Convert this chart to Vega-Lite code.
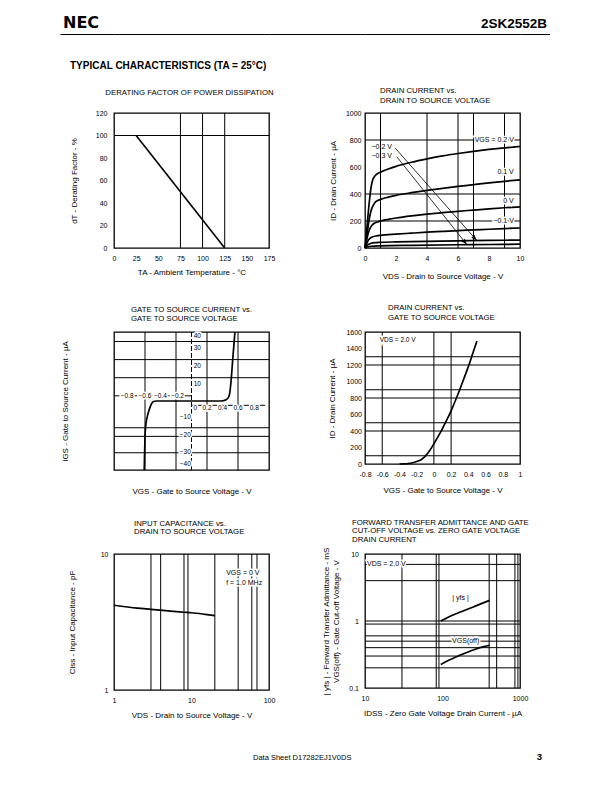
{
"$schema":"https://vega.github.io/schema/vega-lite/v6.json",
"padding":0,
"background":"white",
"columns":6,
"spacing":0,
"bounds":"flush",
"align":"each",
"config":{
 "view":{"stroke":null},
 "axis":{"domain":false,"ticks":false,"grid":false,"labelFont":"Liberation Sans","labelFontSize":7,"labelColor":"#000","titleFont":"Liberation Sans","titleFontSize":8,"titleFontWeight":"normal","titleColor":"#000","labelFlush":false,"labelOverlap":false,"labelBound":false,"titleLineHeight":10},
 "title":{"font":"Liberation Sans","fontSize":7.8,"fontWeight":"normal","color":"#000","frame":"group"},
 "text":{"font":"Liberation Sans","fontSize":7,"color":"#000"},
 "line":{"color":"#000"},
 "rule":{"color":"#000"}
},
"concat":[
 {"width":60,"height":34,"view":{"fill":"white","stroke":null},"data":{"values":[]},"mark":"point"},
 {"width":54,"height":34,"data":{"values":[{"v":0,"t":"NEC"}]},"layer":[
  {"mark":{"type":"text","align":"left","baseline":"alphabetic","dx":3,"dy":-6,"font":"DejaVu Sans","fontSize":16,"fontWeight":"bold","fill":"#000"},"encoding":{"text":{"field":"t","type":"nominal"},"x":{"value":0},"y":{"value":"height"}}},
  {"mark":{"type":"point","opacity":0},"encoding":{"x":{"field":"v","type":"quantitative","axis":{"domain":true,"domainColor":"#000","domainWidth":1,"labels":false,"ticks":false,"grid":false,"title":null}}}}
 ]},
 {"width":155,"height":34,"data":{"values":[{"v":0}]},"mark":{"type":"point","opacity":0},"encoding":{"x":{"field":"v","type":"quantitative","axis":{"domain":true,"domainColor":"#000","domainWidth":1,"labels":false,"ticks":false,"grid":false,"title":null}}}},
 {"width":96,"height":34,"data":{"values":[{"v":0}]},"mark":{"type":"point","opacity":0},"encoding":{"x":{"field":"v","type":"quantitative","axis":{"domain":true,"domainColor":"#000","domainWidth":1,"labels":false,"ticks":false,"grid":false,"title":null}}}},
 {"width":155,"height":34,"data":{"values":[{"v":0}]},"mark":{"type":"point","opacity":0},"encoding":{"x":{"field":"v","type":"quantitative","axis":{"domain":true,"domainColor":"#000","domainWidth":1,"labels":false,"ticks":false,"grid":false,"title":null}}}},
 {"width":30,"height":34,"data":{"values":[{"v":0,"t":"2SK2552B"}]},"layer":[
  {"mark":{"type":"text","align":"right","baseline":"alphabetic","dx":-3,"dy":-6,"font":"Liberation Sans","fontSize":13.5,"fontWeight":"bold","fill":"#000"},"encoding":{"text":{"field":"t","type":"nominal"},"x":{"value":"width"},"y":{"value":"height"}}},
  {"mark":{"type":"point","opacity":0},"encoding":{"x":{"field":"v","type":"quantitative","axis":{"domain":true,"domainColor":"#000","domainWidth":1,"labels":false,"ticks":false,"grid":false,"title":null}}}}
 ]},

 {"width":60,"height":79,"data":{"values":[]},"mark":"point"},
 {"width":54,"height":35,"data":{"values":[{"t":"TYPICAL  CHARACTERISTICS (TA = 25°C)"}]},"mark":{"type":"text","align":"left","baseline":"alphabetic","dx":10,"fontSize":10,"fontWeight":"bold","fill":"#000"},"encoding":{"text":{"field":"t","type":"nominal"},"x":{"value":0},"y":{"value":"height"}}},
 {"width":1,"height":1,"data":{"values":[]},"mark":"point"},
 {"width":1,"height":1,"data":{"values":[]},"mark":"point"},
 {"width":1,"height":1,"data":{"values":[]},"mark":"point"},
 {"width":1,"height":1,"data":{"values":[]},"mark":"point"},

 {"width":1,"height":219,"data":{"values":[]},"mark":"point"},
 {"width":1,"height":1,"data":{"values":[]},"mark":"point"},
 {"width":155,"height":135,"view":{"stroke":"black","strokeWidth":1.3},
  "title":{"text":"DERATING FACTOR OF POWER DISSIPATION","anchor":"middle","dx":-2,"offset":12},
  "encoding":{
   "x":{"field":"x","type":"quantitative","scale":{"domain":[0,175],"nice":false,"zero":false},"axis":{"values":[0,25,50,75,100,125,150,175],"format":"d","labelPadding":6,"titlePadding":7},"title":"TA - Ambient Temperature - °C"},
   "y":{"field":"y","type":"quantitative","scale":{"domain":[0,120],"nice":false,"zero":false},"axis":{"values":[0,20,40,60,80,100,120],"format":"d","labelPadding":7,"titlePadding":17},"title":"dT - Derating Factor - %"}
  },
  "layer":[
   {"data":{"values":[{"x":75,"y":0,"y2":120},{"x":100,"y":0,"y2":120},{"x":125,"y":0,"y2":120}]},"mark":{"type":"rule","strokeWidth":1},"encoding":{"y2":{"field":"y2"}}},
   {"data":{"values":[{"x":0,"x2":175,"y":100}]},"mark":{"type":"rule","strokeWidth":1},"encoding":{"x2":{"field":"x2"}}},
   {"data":{"values":[{"x":25,"y":100},{"x":125,"y":0}]},"mark":{"type":"line","strokeWidth":1.6}}
  ]},
 {"width":1,"height":1,"data":{"values":[]},"mark":"point"},
 {"width":155,"height":135,"view":{"stroke":"black","strokeWidth":1.3},
  "title":{"text":["DRAIN CURRENT vs.","DRAIN TO SOURCE VOLTAGE"],"anchor":"start","dx":15,"offset":4,"lineHeight":10},
  "encoding":{
   "x":{"field":"x","type":"quantitative","scale":{"domain":[0,10],"nice":false,"zero":false},"axis":{"values":[0,2,4,6,8,10],"format":"d","labelPadding":6,"titlePadding":11},"title":"VDS - Drain to Source Voltage - V"},
   "y":{"field":"y","type":"quantitative","scale":{"domain":[0,1000],"nice":false,"zero":false},"axis":{"values":[0,200,400,600,800,1000],"format":"d","labelPadding":4,"titlePadding":8},"title":"ID - Drain Current - µA"}
  },
  "layer":[
   {"data":{"values":[{"x":1,"y":0,"y2":1000},{"x":4,"y":0,"y2":1000},{"x":6,"y":0,"y2":1000},{"x":7,"y":0,"y2":1000},{"x":9,"y":0,"y2":1000}]},"mark":{"type":"rule","strokeWidth":1},"encoding":{"y2":{"field":"y2"}}},
   {"data":{"values":[{"x":0,"x2":10,"y":200},{"x":0,"x2":10,"y":400},{"x":0,"x2":10,"y":800}]},"mark":{"type":"rule","strokeWidth":1},"encoding":{"x2":{"field":"x2"}}},
   {"data":{"values":[
     {"s":"0.2","x":0,"y":0},{"s":"0.2","x":0.1,"y":120},{"s":"0.2","x":0.2,"y":250},{"s":"0.2","x":0.3,"y":365},{"s":"0.2","x":0.4,"y":455},{"s":"0.2","x":0.5,"y":505},{"s":"0.2","x":0.65,"y":535},{"s":"0.2","x":0.8,"y":550},{"s":"0.2","x":1,"y":562},{"s":"0.2","x":1.5,"y":585},{"s":"0.2","x":2,"y":605},{"s":"0.2","x":3,"y":635},{"s":"0.2","x":4,"y":660},{"s":"0.2","x":5,"y":682},{"s":"0.2","x":6,"y":700},{"s":"0.2","x":7,"y":716},{"s":"0.2","x":8,"y":730},{"s":"0.2","x":9,"y":742},{"s":"0.2","x":10,"y":752},
     {"s":"0.1","x":0,"y":0},{"s":"0.1","x":0.1,"y":80},{"s":"0.1","x":0.2,"y":160},{"s":"0.1","x":0.3,"y":230},{"s":"0.1","x":0.4,"y":280},{"s":"0.1","x":0.55,"y":320},{"s":"0.1","x":0.7,"y":343},{"s":"0.1","x":1,"y":360},{"s":"0.1","x":1.5,"y":377},{"s":"0.1","x":2,"y":390},{"s":"0.1","x":3,"y":410},{"s":"0.1","x":4,"y":427},{"s":"0.1","x":5,"y":442},{"s":"0.1","x":6,"y":456},{"s":"0.1","x":7,"y":469},{"s":"0.1","x":8,"y":482},{"s":"0.1","x":9,"y":494},{"s":"0.1","x":10,"y":505},
     {"s":"0","x":0,"y":0},{"s":"0","x":0.1,"y":55},{"s":"0","x":0.2,"y":105},{"s":"0","x":0.3,"y":140},{"s":"0","x":0.45,"y":168},{"s":"0","x":0.6,"y":183},{"s":"0","x":0.8,"y":193},{"s":"0","x":1,"y":200},{"s":"0","x":1.5,"y":212},{"s":"0","x":2,"y":222},{"s":"0","x":3,"y":238},{"s":"0","x":4,"y":251},{"s":"0","x":5,"y":262},{"s":"0","x":6,"y":272},{"s":"0","x":7,"y":281},{"s":"0","x":8,"y":290},{"s":"0","x":9,"y":298},{"s":"0","x":10,"y":305},
     {"s":"-0.1","x":0,"y":0},{"s":"-0.1","x":0.1,"y":30},{"s":"-0.1","x":0.2,"y":55},{"s":"-0.1","x":0.35,"y":74},{"s":"-0.1","x":0.5,"y":83},{"s":"-0.1","x":0.75,"y":90},{"s":"-0.1","x":1,"y":94},{"s":"-0.1","x":2,"y":103},{"s":"-0.1","x":3,"y":110},{"s":"-0.1","x":4,"y":117},{"s":"-0.1","x":5,"y":123},{"s":"-0.1","x":6,"y":129},{"s":"-0.1","x":7,"y":134},{"s":"-0.1","x":8,"y":139},{"s":"-0.1","x":9,"y":144},{"s":"-0.1","x":10,"y":148},
     {"s":"-0.2","x":0,"y":0},{"s":"-0.2","x":0.1,"y":14},{"s":"-0.2","x":0.2,"y":25},{"s":"-0.2","x":0.4,"y":35},{"s":"-0.2","x":0.7,"y":40},{"s":"-0.2","x":1,"y":42},{"s":"-0.2","x":2,"y":45},{"s":"-0.2","x":4,"y":49},{"s":"-0.2","x":6,"y":53},{"s":"-0.2","x":8,"y":56},{"s":"-0.2","x":10,"y":59},
     {"s":"-0.3","x":0,"y":0},{"s":"-0.3","x":0.15,"y":7},{"s":"-0.3","x":0.4,"y":13},{"s":"-0.3","x":1,"y":16},{"s":"-0.3","x":3,"y":20},{"s":"-0.3","x":6,"y":24},{"s":"-0.3","x":8,"y":26},{"s":"-0.3","x":10,"y":28}
    ]},"mark":{"type":"line","strokeWidth":1.7,"interpolate":"monotone"},"encoding":{"detail":{"field":"s","type":"nominal"}}},
   {"data":{"values":[{"x":1.95,"y":740,"x2":7.2,"y2":57},{"x":2.05,"y":676,"x2":6.56,"y2":27}]},"mark":{"type":"rule","strokeWidth":0.8},"encoding":{"x2":{"field":"x2"},"y2":{"field":"y2"}}},
   {"data":{"values":[{"x":7.2,"y":57}]},"mark":{"type":"point","shape":"M0,0L-0.4,1L0.4,1Z","filled":true,"size":120,"angle":138,"color":"black","opacity":1}},
   {"data":{"values":[{"x":6.56,"y":27}]},"mark":{"type":"point","shape":"M0,0L-0.4,1L0.4,1Z","filled":true,"size":120,"angle":141,"color":"black","opacity":1}},
   {"data":{"values":[{"x":9.6,"y":800,"label":"VGS = 0.2 V"},{"x":9.6,"y":560,"label":"0.1 V"},{"x":9.6,"y":345,"label":"0 V"},{"x":9.6,"y":202,"label":"−0.1 V"}]},
    "encoding":{"text":{"field":"label","type":"nominal"}},
    "layer":[
     {"mark":{"type":"text","align":"right","baseline":"middle","fill":"white","stroke":"white","strokeWidth":3}},
     {"mark":{"type":"text","align":"right","baseline":"middle","fill":"#000"}}
    ]},
   {"data":{"values":[{"x":0.42,"y":745,"label":"−0.2 V"},{"x":0.42,"y":682,"label":"−0.3 V"}]},"mark":{"type":"text","align":"left","baseline":"middle","fill":"#000"},"encoding":{"text":{"field":"label","type":"nominal"}}}
  ]},
 {"width":1,"height":1,"data":{"values":[]},"mark":"point"},

 {"width":1,"height":222,"data":{"values":[]},"mark":"point"},
 {"width":1,"height":1,"data":{"values":[]},"mark":"point"},
 {"width":155,"height":138,"view":{"stroke":"black","strokeWidth":1.3},
  "title":{"text":["GATE TO SOURCE CURRENT vs.","GATE TO SOURCE VOLTAGE"],"anchor":"start","dx":17,"offset":5.5,"lineHeight":9},
  "encoding":{
   "x":{"field":"x","type":"quantitative","scale":{"domain":[-1,1],"nice":false,"zero":false},"axis":{"labels":false,"titlePadding":17},"title":"VGS - Gate to Source Voltage - V"},
   "y":{"field":"y","type":"quantitative","scale":{"domain":[-40,40],"nice":false,"zero":false},"axis":{"labels":false,"titlePadding":45},"title":"IGS - Gate to Source Current - µA"}
  },
  "layer":[
   {"data":{"values":[{"x":-0.6,"y":-40,"y2":40},{"x":-0.2,"y":-40,"y2":40},{"x":0.2,"y":-40,"y2":40},{"x":0.6,"y":-40,"y2":40}]},"mark":{"type":"rule","strokeWidth":1},"encoding":{"y2":{"field":"y2"}}},
   {"data":{"values":[{"x":-1,"x2":1,"y":34.5},{"x":-1,"x2":1,"y":24},{"x":-1,"x2":1,"y":13.5},{"x":-1,"x2":1,"y":-15.5},{"x":-1,"x2":1,"y":-20.5},{"x":-1,"x2":1,"y":-30},{"x":-1,"x2":0,"y":3},{"x":0,"x2":0.95,"y":-2.5}]},"mark":{"type":"rule","strokeWidth":1},"encoding":{"x2":{"field":"x2"}}},
   {"data":{"values":[{"x":0,"y":-40,"y2":40}]},"mark":{"type":"rule","strokeWidth":1,"strokeDash":[5,2]},"encoding":{"y2":{"field":"y2"}}},
   {"data":{"values":[
     {"x":-0.61,"y":-40},{"x":-0.605,"y":-30},{"x":-0.6,"y":-21},{"x":-0.59,"y":-14},{"x":-0.57,"y":-9},{"x":-0.545,"y":-5},{"x":-0.52,"y":-2},{"x":-0.49,"y":-0.3},{"x":-0.45,"y":0},{"x":0.38,"y":0},{"x":0.42,"y":0.3},{"x":0.46,"y":1.2},{"x":0.48,"y":2.5},{"x":0.495,"y":5},{"x":0.505,"y":9},{"x":0.515,"y":14},{"x":0.525,"y":20},{"x":0.537,"y":27},{"x":0.55,"y":34},{"x":0.56,"y":40}
    ]},"mark":{"type":"line","strokeWidth":1.7,"interpolate":"monotone"}},
   {"data":{"values":[
     {"x":0.075,"y":37.5,"label":"40"},{"x":0.075,"y":30.5,"label":"30"},{"x":0.075,"y":20.3,"label":"20"},{"x":0.075,"y":10.1,"label":"10"},
     {"x":-0.08,"y":-9.5,"label":"−10"},{"x":-0.08,"y":-19.5,"label":"−20"},{"x":-0.08,"y":-29.3,"label":"−30"},{"x":-0.08,"y":-36.5,"label":"−40"},
     {"x":-0.83,"y":3,"label":"−0.8"},{"x":-0.6,"y":3,"label":"−0.6"},{"x":-0.4,"y":3,"label":"−0.4"},{"x":-0.18,"y":3,"label":"−0.2"},
     {"x":0.05,"y":-4,"label":"0"},{"x":0.2,"y":-4,"label":"0.2"},{"x":0.4,"y":-4,"label":"0.4"},{"x":0.6,"y":-4,"label":"0.6"},{"x":0.81,"y":-4,"label":"0.8"}
    ]},
    "encoding":{"text":{"field":"label","type":"nominal"}},
    "layer":[
     {"mark":{"type":"text","align":"center","baseline":"middle","fontSize":6.5,"fill":"white","stroke":"white","strokeWidth":3}},
     {"mark":{"type":"text","align":"center","baseline":"middle","fontSize":6.5,"fill":"#000"}}
    ]}
  ]},
 {"width":1,"height":1,"data":{"values":[]},"mark":"point"},
 {"width":155,"height":132,"view":{"stroke":"black","strokeWidth":1.3},
  "title":{"text":["DRAIN CURRENT vs.","GATE TO SOURCE VOLTAGE"],"anchor":"start","dx":23,"offset":6,"lineHeight":10},
  "encoding":{
   "x":{"field":"x","type":"quantitative","scale":{"domain":[-0.8,1],"nice":false,"zero":false},"axis":{"values":[-0.8,-0.6,-0.4,-0.2,0,0.2,0.4,0.6,0.8,1],"labelExpr":"replace(format(datum.value,'~g'),'−','-')","labelPadding":6,"titlePadding":9},"title":"VGS - Gate to Source Voltage - V"},
   "y":{"field":"y","type":"quantitative","scale":{"domain":[0,1600],"nice":false,"zero":false},"axis":{"values":[0,200,400,600,800,1000,1200,1400,1600],"format":"d","labelPadding":3.5,"titlePadding":9},"title":"ID - Drain Current - µA"}
  },
  "layer":[
   {"data":{"values":[{"x":-0.6,"y":0,"y2":1600},{"x":0,"y":0,"y2":1600},{"x":0.2,"y":0,"y2":1600}]},"mark":{"type":"rule","strokeWidth":1},"encoding":{"y2":{"field":"y2"}}},
   {"data":{"values":[{"x":-0.8,"x2":1,"y":100},{"x":-0.8,"x2":1,"y":400},{"x":-0.8,"x2":1,"y":500},{"x":-0.8,"x2":1,"y":800},{"x":-0.8,"x2":1,"y":900},{"x":-0.8,"x2":1,"y":1200},{"x":-0.8,"x2":1,"y":1300}]},"mark":{"type":"rule","strokeWidth":1},"encoding":{"x2":{"field":"x2"}}},
   {"data":{"values":[
     {"x":-0.4,"y":0},{"x":-0.35,"y":2},{"x":-0.3,"y":6},{"x":-0.25,"y":15},{"x":-0.2,"y":30},{"x":-0.15,"y":52},{"x":-0.1,"y":95},{"x":-0.05,"y":160},{"x":0,"y":245},{"x":0.05,"y":335},{"x":0.1,"y":430},{"x":0.15,"y":535},{"x":0.2,"y":645},{"x":0.25,"y":770},{"x":0.3,"y":900},{"x":0.35,"y":1040},{"x":0.4,"y":1180},{"x":0.45,"y":1335},{"x":0.5,"y":1490}
    ]},"mark":{"type":"line","strokeWidth":1.7,"interpolate":"monotone"}},
   {"data":{"values":[{"x":-0.63,"y":1500,"label":"VDS = 2.0 V"}]},
    "encoding":{"text":{"field":"label","type":"nominal"}},
    "layer":[
     {"mark":{"type":"text","align":"left","baseline":"middle","fontSize":6.5,"fill":"white","stroke":"white","strokeWidth":3}},
     {"mark":{"type":"text","align":"left","baseline":"middle","fontSize":6.5,"fill":"#000"}}
    ]}
  ]},
 {"width":1,"height":1,"data":{"values":[]},"mark":"point"},

 {"width":1,"height":196,"data":{"values":[]},"mark":"point"},
 {"width":1,"height":1,"data":{"values":[]},"mark":"point"},
 {"width":155,"height":136,"view":{"stroke":"black","strokeWidth":1.3},
  "title":{"text":["INPUT CAPACITANCE vs.","DRAIN TO SOURCE VOLTAGE"],"anchor":"start","dx":20,"offset":14,"lineHeight":8.5},
  "encoding":{
   "x":{"field":"x","type":"quantitative","scale":{"type":"log","domain":[1,100],"nice":false},"axis":{"values":[1,10,100],"format":"~g","labelPadding":6,"titlePadding":8},"title":"VDS - Drain to Source Voltage - V"},
   "y":{"field":"y","type":"quantitative","scale":{"type":"log","domain":[1,10],"nice":false},"axis":{"values":[1,10],"format":"~g","labelPadding":6,"titlePadding":24},"title":"Ciss - Input Capacitance - pF"}
  },
  "layer":[
   {"data":{"values":[{"x":3,"y":1,"y2":10},{"x":4,"y":1,"y2":10},{"x":8,"y":1,"y2":10},{"x":9,"y":1,"y2":10},{"x":20,"y":1,"y2":10},{"x":40,"y":1,"y2":10},{"x":60,"y":1,"y2":10},{"x":70,"y":1,"y2":10}]},"mark":{"type":"rule","strokeWidth":1},"encoding":{"y2":{"field":"y2"}}},
   {"data":{"values":[{"x":1,"y":4.2},{"x":2,"y":4.0},{"x":3,"y":3.92},{"x":5,"y":3.82},{"x":8,"y":3.73},{"x":10,"y":3.7},{"x":15,"y":3.6},{"x":20,"y":3.52}]},"mark":{"type":"line","strokeWidth":1.7,"interpolate":"monotone"}},
   {"data":{"values":[{"x":28,"y":7.3,"label":"VGS = 0 V"},{"x":28,"y":6.1,"label":"f = 1.0 MHz"}]},
    "encoding":{"text":{"field":"label","type":"nominal"}},
    "layer":[
     {"mark":{"type":"text","align":"left","baseline":"middle","fill":"white","stroke":"white","strokeWidth":3}},
     {"mark":{"type":"text","align":"left","baseline":"middle","fill":"#000"}}
    ]}
  ]},
 {"width":1,"height":1,"data":{"values":[]},"mark":"point"},
 {"width":155,"height":134,"view":{"stroke":"black","strokeWidth":1.3},
  "title":{"text":["FORWARD TRANSFER ADMITTANCE AND GATE","CUT-OFF VOLTAGE vs. ZERO GATE VOLTAGE","DRAIN CURRENT"],"anchor":"start","dx":-13,"offset":3.5,"lineHeight":8.5},
  "encoding":{
   "x":{"field":"x","type":"quantitative","scale":{"type":"log","domain":[10,1000],"nice":false},"axis":{"values":[10,100,1000],"format":"~g","labelPadding":6,"titlePadding":8},"title":"IDSS - Zero Gate Voltage Drain Current - µA"},
   "y":{"field":"y","type":"quantitative","scale":{"type":"log","domain":[0.1,10],"nice":false},"axis":{"values":[0.1,1,10],"format":"~g","labelPadding":6.5,"titlePadding":8},"title":["| yfs | - Forward Transfer Admittance - mS","VGS(off) - Gate Cut-off Voltage - V"]}
  },
  "layer":[
   {"data":{"values":[{"x":30,"y":0.1,"y2":10},{"x":83,"y":0.1,"y2":10},{"x":90,"y":0.1,"y2":10},{"x":400,"y":0.1,"y2":10},{"x":500,"y":0.1,"y2":10},{"x":860,"y":0.1,"y2":10},{"x":940,"y":0.1,"y2":10}]},"mark":{"type":"rule","strokeWidth":1},"encoding":{"y2":{"field":"y2"}}},
   {"data":{"values":[{"x":10,"x2":1000,"y":7},{"x":10,"x2":1000,"y":4},{"x":10,"x2":1000,"y":1},{"x":10,"x2":1000,"y":0.9},{"x":10,"x2":1000,"y":0.6},{"x":10,"x2":1000,"y":0.5},{"x":10,"x2":1000,"y":0.4},{"x":10,"x2":1000,"y":0.3},{"x":10,"x2":1000,"y":0.2}]},"mark":{"type":"rule","strokeWidth":1},"encoding":{"x2":{"field":"x2"}}},
   {"data":{"values":[
     {"s":"yfs","x":95,"y":1.0},{"s":"yfs","x":120,"y":1.15},{"s":"yfs","x":170,"y":1.36},{"s":"yfs","x":250,"y":1.62},{"s":"yfs","x":330,"y":1.85},{"s":"yfs","x":405,"y":2.03},
     {"s":"off","x":95,"y":0.225},{"s":"off","x":120,"y":0.26},{"s":"off","x":170,"y":0.31},{"s":"off","x":250,"y":0.37},{"s":"off","x":330,"y":0.41},{"s":"off","x":405,"y":0.435}
    ]},"mark":{"type":"line","strokeWidth":1.7,"interpolate":"monotone"},"encoding":{"detail":{"field":"s","type":"nominal"}}},
   {"data":{"values":[{"x":10.6,"y":7,"label":"VDS = 2.0 V"}]},
    "encoding":{"text":{"field":"label","type":"nominal"}},
    "layer":[
     {"mark":{"type":"text","align":"left","baseline":"middle","fill":"white","stroke":"white","strokeWidth":3}},
     {"mark":{"type":"text","align":"left","baseline":"middle","fill":"#000"}}
    ]},
   {"data":{"values":[{"x":171,"y":2.2,"label":"| yfs |"},{"x":199,"y":0.5,"label":"VGS(off)"}]},
    "encoding":{"text":{"field":"label","type":"nominal"}},
    "layer":[
     {"mark":{"type":"text","align":"center","baseline":"middle","fill":"white","stroke":"white","strokeWidth":3}},
     {"mark":{"type":"text","align":"center","baseline":"middle","fill":"#000","color":"#000"}}
    ]}
  ]},
 {"width":1,"height":1,"data":{"values":[]},"mark":"point"},

 {"width":1,"height":10,"data":{"values":[]},"mark":"point"},
 {"width":1,"height":1,"data":{"values":[]},"mark":"point"},
 {"width":155,"height":10,"data":{"values":[{"a":"Data Sheet  D17282EJ1V0DS"}]},"mark":{"type":"text","align":"left","baseline":"alphabetic","dx":-16,"fontSize":7.5,"fill":"#000"},"encoding":{"text":{"field":"a","type":"nominal"},"x":{"value":"width"},"y":{"value":"height"}}},
 {"width":1,"height":1,"data":{"values":[]},"mark":"point"},
 {"width":1,"height":1,"data":{"values":[]},"mark":"point"},
 {"width":30,"height":10,"data":{"values":[{"b":"3"}]},"mark":{"type":"text","align":"right","baseline":"alphabetic","dx":-8,"fontSize":9.5,"fontWeight":"bold","fill":"#000"},"encoding":{"text":{"field":"b","type":"nominal"},"x":{"value":"width"},"y":{"value":"height"}}}
]
}
